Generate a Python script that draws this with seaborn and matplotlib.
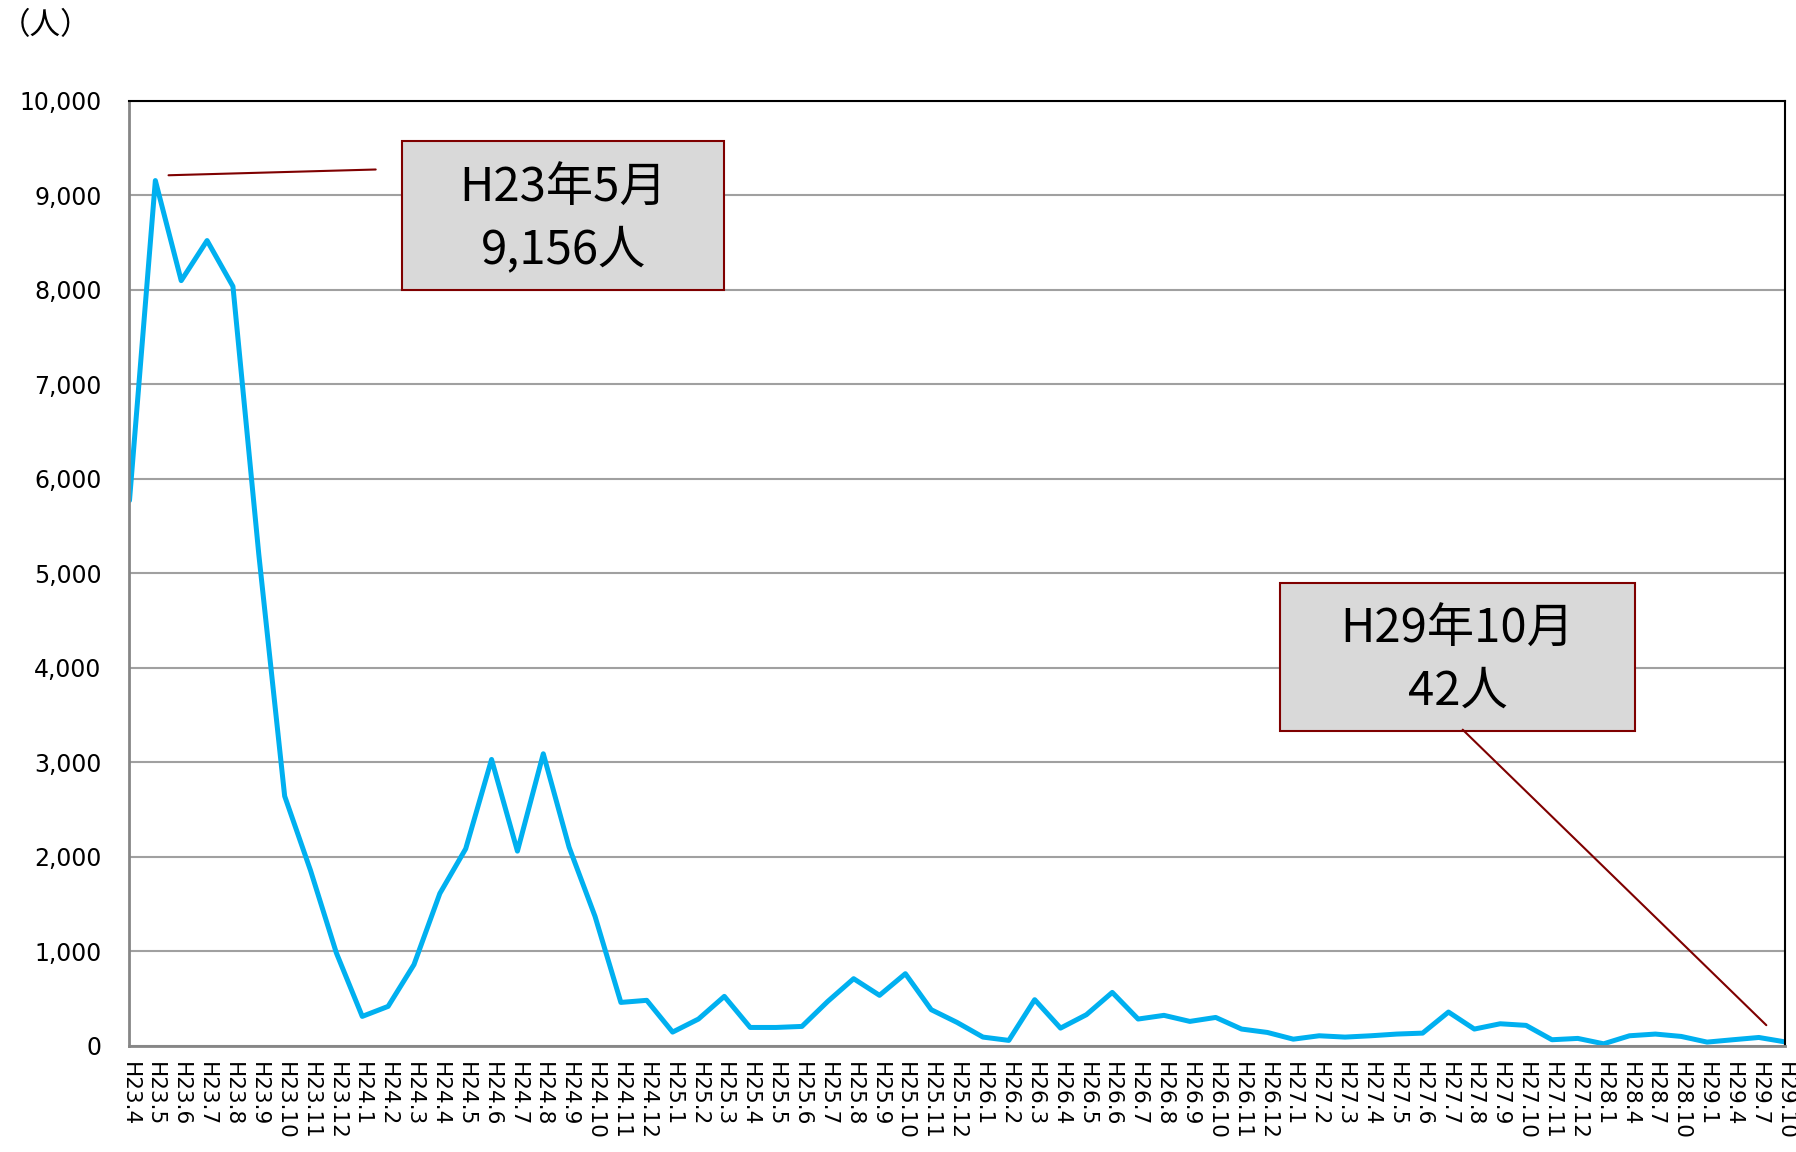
import numpy as np
import pandas as pd
import matplotlib
matplotlib.use("Agg")
import matplotlib.pyplot as plt
import seaborn as sns
from matplotlib.patches import Rectangle

# month labels (monthly to H28.1, then quarterly)
months = ["H23.4", "H23.5", "H23.6", "H23.7", "H23.8", "H23.9", "H23.10", "H23.11", "H23.12",
          "H24.1", "H24.2", "H24.3", "H24.4", "H24.5", "H24.6", "H24.7", "H24.8", "H24.9",
          "H24.10", "H24.11", "H24.12",
          "H25.1", "H25.2", "H25.3", "H25.4", "H25.5", "H25.6", "H25.7", "H25.8", "H25.9",
          "H25.10", "H25.11", "H25.12",
          "H26.1", "H26.2", "H26.3", "H26.4", "H26.5", "H26.6", "H26.7", "H26.8", "H26.9",
          "H26.10", "H26.11", "H26.12",
          "H27.1", "H27.2", "H27.3", "H27.4", "H27.5", "H27.6", "H27.7", "H27.8", "H27.9",
          "H27.10", "H27.11", "H27.12",
          "H28.1", "H28.4", "H28.7", "H28.10", "H29.1", "H29.4", "H29.7", "H29.10"]

people = [5770, 9156, 8097, 8521, 8036, 5200, 2642, 1855, 982,
          311, 417, 859, 1612, 2085, 3030, 2060, 3090, 2100,
          1370, 459, 481,
          145, 283, 523, 194, 194, 205, 470, 710, 534,
          763, 382, 247,
          92, 57, 488, 187, 329, 565, 283, 322, 258,
          300, 177, 141,
          70, 106, 92, 106, 124, 134, 357, 177, 233,
          216, 64, 78,
          21, 106, 124, 99, 39, 64, 88, 42]

df = pd.DataFrame({"idx": np.arange(len(months)), "month": months, "people": people})

sns.set_theme(style="white")
plt.rcParams["font.family"] = ["DejaVu Sans", "Noto Sans CJK JP"]
cjk = ["Noto Sans CJK JP", "DejaVu Sans"]

fig = plt.figure(figsize=(17.96, 11.52), dpi=100)
ax = fig.add_axes([0.0721, 0.0922, 0.9216, 0.8203])

sns.lineplot(data=df, x="idx", y="people", ax=ax, color="#00b0f0", linewidth=3.6)

ax.set_xlim(0, len(months) - 1)
ax.set_ylim(0, 10000)
ax.set_yticks(np.arange(0, 10001, 1000))
ax.set_yticklabels([f"{v:,}" for v in range(0, 10001, 1000)], fontsize=17)
ax.set_xticks(df["idx"])
ax.set_xticklabels(months, rotation=-90, fontsize=15.5, va="top", ha="center")
ax.set_xlabel("")
ax.set_ylabel("")

ax.yaxis.grid(True, color="#a0a0a0", linewidth=1.5)
ax.xaxis.grid(False)
ax.tick_params(axis="y", which="major", direction="out", length=8, width=1.5,
               color="#868686", pad=12, labelcolor="black")
ax.tick_params(axis="x", which="major", direction="out", length=6, width=1.2,
               color="#868686", pad=6, labelcolor="black")
for side in ["left", "bottom"]:
    ax.spines[side].set_color("#868686")
    ax.spines[side].set_linewidth(2)
for side in ["top", "right"]:
    ax.spines[side].set_color("black")
    ax.spines[side].set_linewidth(1.5)

# annotation boxes
box_fc = "#d9d9d9"
box_ec = "#7f0000"
ax.add_patch(Rectangle((10.54, 8000), 12.45, 1576, facecolor=box_fc, edgecolor=box_ec,
                       linewidth=1.5, zorder=4))
ax.text(16.77, 9070, "H23年5月", ha="center", va="center", fontsize=34, color="black",
        family=cjk, zorder=5)
ax.text(16.77, 8420, "9,156人", ha="center", va="center", fontsize=34, color="black",
        family=cjk, zorder=5)
ax.plot([1.51, 9.52], [9212, 9273], color=box_ec, linewidth=1.5, zorder=4)

ax.add_patch(Rectangle((44.5, 3333), 13.7, 1564, facecolor=box_fc, edgecolor=box_ec,
                       linewidth=1.5, zorder=4))
ax.text(51.35, 4400, "H29年10月", ha="center", va="center", fontsize=34, color="black",
        family=cjk, zorder=5)
ax.text(51.35, 3745, "42人", ha="center", va="center", fontsize=34, color="black",
        family=cjk, zorder=5)
ax.plot([51.55, 63.29], [3345, 218], color=box_ec, linewidth=1.5, zorder=4)

fig.text(0.0, 0.978, "（人）", ha="left", va="center", fontsize=22, color="black", family=cjk)

fig.savefig("out.png", dpi=100, facecolor="white")
